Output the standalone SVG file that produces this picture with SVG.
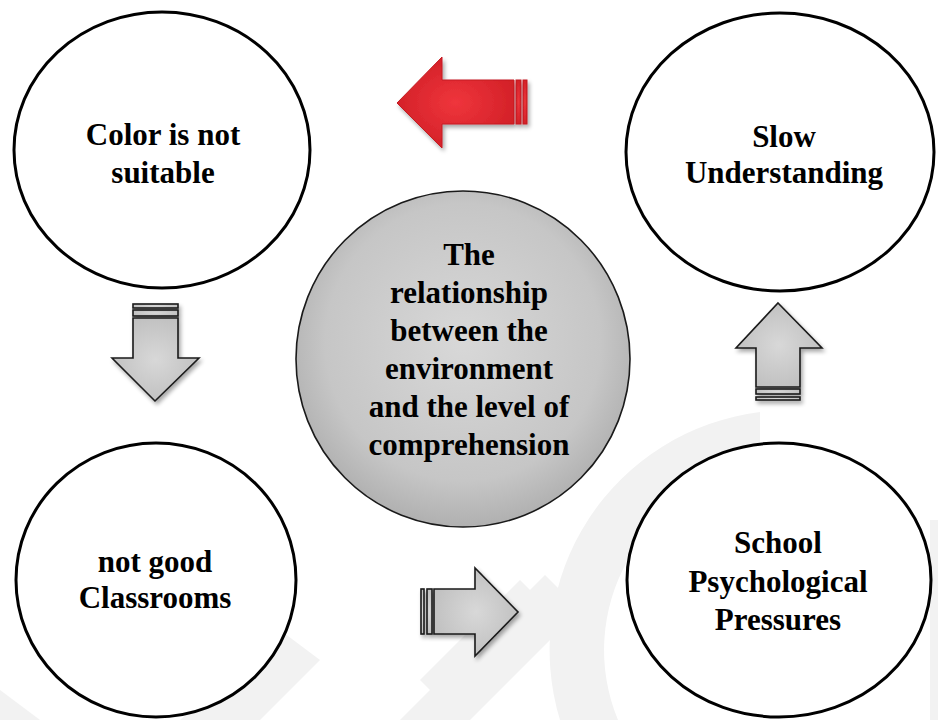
<svg xmlns="http://www.w3.org/2000/svg" width="938" height="720" viewBox="0 0 938 720">
  <defs>
    <radialGradient id="centerFill" cx="0.5" cy="0.45" r="0.55">
      <stop offset="0" stop-color="#d8d8d8"/>
      <stop offset="0.75" stop-color="#c6c6c6"/>
      <stop offset="1" stop-color="#b0b0b0"/>
    </radialGradient>
    <radialGradient id="grayArrow" cx="0.5" cy="0.5" r="0.6">
      <stop offset="0" stop-color="#d8d8d8"/>
      <stop offset="1" stop-color="#bdbdbd"/>
    </radialGradient>
    <radialGradient id="redArrow" cx="0.5" cy="0.5" r="0.6">
      <stop offset="0" stop-color="#ef353c"/>
      <stop offset="1" stop-color="#cf1e25"/>
    </radialGradient>
    <filter id="shadow" x="-20%" y="-20%" width="150%" height="150%">
      <feGaussianBlur in="SourceAlpha" stdDeviation="2"/>
      <feOffset dx="2" dy="3" result="b"/>
      <feComponentTransfer><feFuncA type="linear" slope="0.35"/></feComponentTransfer>
      <feMerge><feMergeNode/><feMergeNode in="SourceGraphic"/></feMerge>
    </filter>
  </defs>
  <style>
    .node { fill: #ffffff; stroke: #000000; stroke-width: 3; }
    .center { fill: url(#centerFill); stroke: #1a1a1a; stroke-width: 1.6; }
    .label { font-weight: bold; font-size: 31px; fill: #000000; text-anchor: middle; }
    .garrow { fill: url(#grayArrow); stroke: #1a1a1a; stroke-width: 1.6; stroke-linejoin: miter; }
    .rarrow { fill: url(#redArrow); stroke: #c41a21; stroke-width: 1; }
    .wm { fill: #f2f2f2; }
  </style>

  <rect width="938" height="720" fill="#ffffff"/>

  <g id="watermark">
    <path class="wm" d="M560,720 A240,240 0 0 1 760,412 L760,470 A182,182 0 0 0 618,720 Z"/>
    <path class="wm" d="M930,520 L938,520 L938,720 L930,720 Z"/>
    <polygon class="wm" points="400,720 470,720 580,610 545,575"/>
    <polygon class="wm" points="420,680 520,580 545,605 445,705"/>
    <polygon class="wm" points="180,720 260,720 320,660 280,630"/>
    <polygon class="wm" points="0,690 40,720 0,720"/>
  </g>

  <g font-family="Liberation Serif, Tinos, Times New Roman, DejaVu Serif, serif">
  <g id="node-color">
    <ellipse class="node" cx="162" cy="150" rx="148" ry="138"/>
    <text class="label" x="163" y="145">Color is not</text>
    <text class="label" x="163" y="183">suitable</text>
  </g>

  <g id="node-slow">
    <ellipse class="node" cx="780" cy="152" rx="154" ry="139"/>
    <text class="label" x="784" y="147">Slow</text>
    <text class="label" x="784" y="183">Understanding</text>
  </g>

  <g id="node-classrooms">
    <ellipse class="node" cx="156" cy="580" rx="140" ry="137"/>
    <text class="label" x="155" y="572">not good</text>
    <text class="label" x="155" y="608">Classrooms</text>
  </g>

  <g id="node-pressures">
    <ellipse class="node" cx="779" cy="580" rx="152" ry="137"/>
    <text class="label" x="778" y="553">School</text>
    <text class="label" x="778" y="592">Psychological</text>
    <text class="label" x="778" y="630">Pressures</text>
  </g>

  <g id="node-center">
    <ellipse class="center" cx="463" cy="359" rx="167" ry="168"/>
    <text class="label" x="469" y="265">The</text>
    <text class="label" x="469" y="303">relationship</text>
    <text class="label" x="469" y="341">between the</text>
    <text class="label" x="469" y="379">environment</text>
    <text class="label" x="469" y="417">and the level of</text>
    <text class="label" x="469" y="455">comprehension</text>
  </g>
  </g>

  <g id="connectors">
    <g id="arrow-red" filter="url(#shadow)">
      <path class="rarrow" d="M397,103 L442,57 V80 H514 V124 H442 V148 Z"/>
      <rect class="rarrow" x="516" y="80" width="5" height="44"/>
      <rect class="rarrow" x="523" y="80" width="4" height="44"/>
    </g>
    <g id="arrow-down" filter="url(#shadow)">
      <rect class="garrow" x="133" y="304" width="45" height="4"/>
      <rect class="garrow" x="133" y="310" width="45" height="6"/>
      <path class="garrow" d="M133,318 H178 V358 H199 L155,401 L112,358 H133 Z"/>
    </g>
    <g id="arrow-up" filter="url(#shadow)">
      <path class="garrow" d="M778,303 L822,348 H800 V387 H756 V348 H736 Z"/>
      <rect class="garrow" x="756" y="389" width="44" height="5"/>
      <rect class="garrow" x="756" y="397" width="44" height="3"/>
    </g>
    <g id="arrow-right" filter="url(#shadow)">
      <rect class="garrow" x="421" y="589" width="3" height="45"/>
      <rect class="garrow" x="427" y="589" width="5" height="45"/>
      <path class="garrow" d="M434,589 H475 V568 L518,612 L475,656 V634 H434 Z"/>
    </g>
  </g>
</svg>
